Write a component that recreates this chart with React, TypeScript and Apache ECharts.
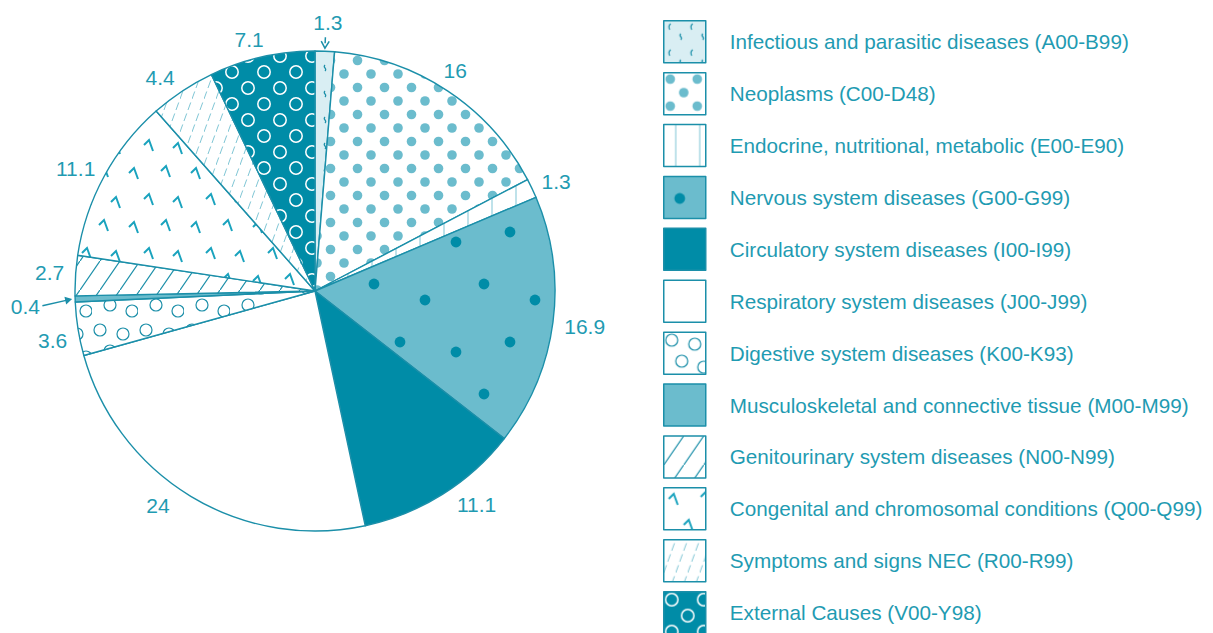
import React, { useEffect, useRef } from "react";
import * as echarts from "echarts";

// ---------- data ----------
const categories: string[] = [
  "Infectious and parasitic diseases (A00-B99)",
  "Neoplasms (C00-D48)",
  "Endocrine, nutritional, metabolic (E00-E90)",
  "Nervous system diseases (G00-G99)",
  "Circulatory system diseases (I00-I99)",
  "Respiratory system diseases (J00-J99)",
  "Digestive system diseases (K00-K93)",
  "Musculoskeletal and connective tissue (M00-M99)",
  "Genitourinary system diseases (N00-N99)",
  "Congenital and chromosomal conditions (Q00-Q99)",
  "Symptoms and signs NEC (R00-R99)",
  "External Causes (V00-Y98)",
];
const values: number[] = [1.3, 16, 1.3, 16.9, 11.1, 24, 3.6, 0.4, 2.7, 11.1, 4.4, 7.1];
// label nudges (style only): angular shift in degrees and radius in px
const labelShiftDeg: number[] = [0.4, -1, 0.8, 0, -5, 5, -1.5, -1.2, 0.4, -1.4, -2.4, -1.9];
const labelRadius: number[] = [269, 261, 265, 272, 268, 266, 267, 290, 266, 269, 264, 260];
const arrowIndices: number[] = [0, 7];

// ---------- style ----------
const DARK = "#008ca7";
const MID = "#6bbccd";
const LIGHT = "#d9eef3";
const LINE = "#1b8fa9";
const PALE = "#80c6d5";
const TEXT = "#1f9bb2";
const MARK = "#1aa3be";
const FONT = "'Liberation Sans', Arial, Helvetica, sans-serif";

const CX = 315;
const CY = 291;
const R = 240;

function tile(w: number, h: number, body: string, bg?: string): any {
  const svg =
    `<svg xmlns="http://www.w3.org/2000/svg" width="${w}" height="${h}" viewBox="0 0 ${w} ${h}">` +
    (bg ? `<rect x="0" y="0" width="${w}" height="${h}" fill="${bg}"/>` : "") +
    body +
    `</svg>`;
  return {
    image: "data:image/svg+xml;charset=utf-8," + encodeURIComponent(svg),
    repeat: "repeat",
    imageWidth: w,
    imageHeight: h,
  };
}

function dots(pts: number[][], r: number, fill: string) {
  return pts.map(([x, y]) => `<circle cx="${x}" cy="${y}" r="${r}" fill="${fill}"/>`).join("");
}
function rings(pts: number[][], r: number, stroke: string, sw: number) {
  return pts
    .map(([x, y]) => `<circle cx="${x}" cy="${y}" r="${r}" fill="none" stroke="${stroke}" stroke-width="${sw}"/>`)
    .join("");
}
function marks(pts: number[][]) {
  return pts
    .map(
      ([x, y]) =>
        `<path d="M${x - 5} ${y + 5} L${x} ${y} L${x + 4} ${y + 11}" fill="none" stroke="${MARK}" stroke-width="2"/>`
    )
    .join("");
}

const patterns: any[] = [
  // infectious
  tile(
    22,
    26,
    `<path d="M7 3 q-3 2 -1 6" fill="none" stroke="${LINE}" stroke-width="1.2"/>` +
      `<path d="M17 13 q-1.5 1.5 0 3 q1.5 1.5 0 3" fill="none" stroke="${LINE}" stroke-width="1.2"/>`,
    LIGHT
  ),
  // neoplasms
  tile(27, 27, dots([[6.5, 6.5], [20, 20]], 4.8, MID), "#ffffff"),
  // endocrine
  tile(24, 24, `<line x1="12" y1="0" x2="12" y2="24" stroke="${PALE}" stroke-width="1"/>`, "#ffffff"),
  // nervous
  tile(110, 110, dots([[16, 22], [70, 12], [44, 64], [95, 80]], 5.4, DARK), MID),
  // circulatory
  DARK,
  // respiratory
  "#ffffff",
  // digestive
  tile(46, 46, rings([[8, 8], [31, 12], [18, 29], [40, 35]], 6, LINE, 1.2), "#ffffff"),
  // musculoskeletal
  MID,
  // genitourinary
  tile(20, 29, `<line x1="-1" y1="30.45" x2="21" y2="-1.45" stroke="${LINE}" stroke-width="1.2"/>`, "#ffffff"),
  // congenital
  tile(62, 54, marks([[10, 6], [42, 4], [25, 32], [54, 35]]), "#ffffff"),
  // symptoms
  tile(
    12,
    33,
    `<line x1="0" y1="33" x2="12" y2="0" stroke="${PALE}" stroke-width="1" stroke-dasharray="8 3.704"/>`,
    "#ffffff"
  ),
  // external
  tile(32, 32, rings([[8, 8], [24, 24]], 6.2, "#ffffff", 1.5), DARK),
];

const total = values.reduce((a, b) => a + b, 0);
const midAngles = values.map((v, i) => {
  const before = values.slice(0, i).reduce((a, b) => a + b, 0);
  return ((before + v / 2) / total) * Math.PI * 2;
});
const polar = (r: number, a: number) => [CX + r * Math.sin(a), CY - r * Math.cos(a)];
const labelAngle = (i: number) => midAngles[i] + (labelShiftDeg[i] * Math.PI) / 180;

function arrowGraphics(): any[] {
  const out: any[] = [];
  arrowIndices.forEach((i) => {
    const tip = polar(R + 3, midAngles[i]);
    const tail = i === 0 ? polar(R + 14, midAngles[i]) : polar(R + 33, labelAngle(i));
    const dx = tip[0] - tail[0];
    const dy = tip[1] - tail[1];
    const len = Math.sqrt(dx * dx + dy * dy);
    const ux = dx / len;
    const uy = dy / len;
    const hl = 7;
    const hw = 4;
    const b = [tip[0] - ux * hl, tip[1] - uy * hl];
    const p1 = [b[0] - uy * hw, b[1] + ux * hw];
    const p2 = [b[0] + uy * hw, b[1] - ux * hw];
    out.push({
      type: "line",
      shape: { x1: tail[0], y1: tail[1], x2: b[0] + ux * 2, y2: b[1] + uy * 2 },
      style: { stroke: LINE, lineWidth: 1.5 },
      silent: true,
    });
    if (i === 0) {
      out.push({
        type: "polyline",
        shape: { points: [p1, tip, p2] },
        style: { stroke: LINE, lineWidth: 1.5, fill: "none" },
        silent: true,
      });
    } else {
      out.push({
        type: "polygon",
        shape: { points: [p1, tip, p2] },
        style: { fill: LINE },
        silent: true,
      });
    }
  });
  return out;
}

export default function App() {
  const ref = useRef<HTMLDivElement>(null);
  useEffect(() => {
    document.body.style.margin = "0";
    const chart = echarts.init(ref.current as HTMLDivElement, undefined, { renderer: "svg" });
    chart.setOption({
      animation: false,
      backgroundColor: "#ffffff",
      legend: {
        orient: "vertical",
        left: 663,
        top: 20,
        height: 800,
        padding: 0,
        itemWidth: 42,
        itemHeight: 42,
        itemGap: 8.4,
        icon: "rect",
        selectedMode: false,
        data: categories,
        itemStyle: { borderColor: LINE, borderWidth: 1.5 },
        textStyle: {
          color: TEXT,
          fontSize: 20.7,
          fontFamily: FONT,
          padding: [4, 0, 0, 19],
        },
      },
      graphic: { elements: arrowGraphics() },
      series: [
        {
          type: "pie",
          center: [CX, CY],
          radius: R,
          startAngle: 90,
          clockwise: true,
          avoidLabelOverlap: false,
          minShowLabelAngle: 0,
          silent: true,
          data: categories.map((name, i) => ({
            name,
            value: values[i],
            itemStyle: { color: patterns[i] },
          })),
          itemStyle: { borderColor: LINE, borderWidth: 1.4 },
          label: {
            show: true,
            position: "outside",
            formatter: "{c}",
            color: TEXT,
            fontSize: 21,
            fontFamily: FONT,
          },
          labelLine: { show: false },
          labelLayout: (params: any) => {
            const i = params.dataIndex;
            const p = polar(labelRadius[i], labelAngle(i));
            return { x: p[0], y: p[1], align: "center", verticalAlign: "middle" };
          },
          emphasis: { disabled: true },
        },
      ],
    });
    return () => chart.dispose();
  }, []);
  return (
    <div
      ref={ref}
      style={{ position: "absolute", left: 0, top: 0, width: 1213, height: 633 }}
    />
  );
}
